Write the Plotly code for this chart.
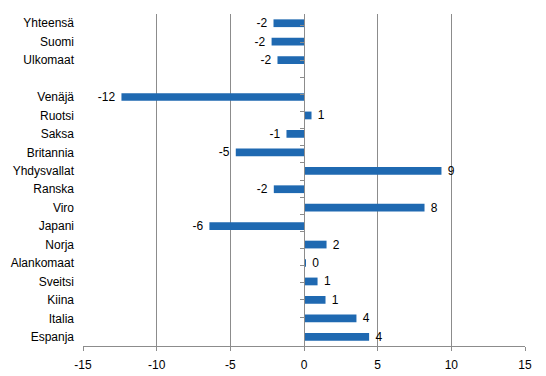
import plotly.graph_objects as go

categories = ["Yhteensä", "Suomi", "Ulkomaat", " ", "Venäjä", "Ruotsi", "Saksa",
              "Britannia", "Yhdysvallat", "Ranska", "Viro", "Japani", "Norja",
              "Alankomaat", "Sveitsi", "Kiina", "Italia", "Espanja"]
values = [-2.07, -2.2, -1.8, None, -12.39, 0.51, -1.19,
          -4.63, 9.33, -2.05, 8.18, -6.42, 1.53,
          0.1, 0.92, 1.46, 3.56, 4.42]
x_ticks = [-15, -10, -5, 0, 5, 10, 15]
x_tick_labels = ["-15", "-10", "-5", "0", "5", "10", "15"]

labels = ["" if v is None else "\u00a0" + str(int(round(v))) + "\u00a0" for v in values]

BLUE = "#1f69b1"
GRID = "#8c8c8c"
FONT = "Liberation Sans, Arial, sans-serif"

fig = go.Figure()
fig.add_trace(go.Bar(
    x=values, y=categories, orientation="h",
    marker=dict(color=BLUE, line=dict(width=0)),
    text=labels, textposition="outside", cliponaxis=False, constraintext="none",
    textfont=dict(size=12, color="#000000", family=FONT),
    hoverinfo="skip",
))
# invisible trace to drive the zero-positioned category axis with boundary ticks
fig.add_trace(go.Scatter(
    x=[0 if v is None else v for v in values], y=categories, yaxis="y2",
    mode="markers", marker=dict(opacity=0), hoverinfo="skip", showlegend=False,
))

fig.update_layout(
    width=546, height=376,
    margin=dict(l=75, r=29, t=6, b=38, autoexpand=False),
    paper_bgcolor="white", plot_bgcolor="white",
    showlegend=False, bargap=0.58,
    font=dict(family=FONT, size=12, color="#000000"),
    xaxis=dict(
        range=[-15, 15], tickvals=x_ticks, ticktext=x_tick_labels,
        showgrid=True, gridcolor=GRID, gridwidth=1, automargin=False,
        zeroline=False, showline=True, linecolor=GRID, linewidth=1,
        ticks="outside", ticklen=4, tickcolor=GRID, ticklabelstandoff=4,
        tickfont=dict(size=12, family=FONT, color="#000000"),
        fixedrange=True,
    ),
    yaxis=dict(
        type="category", categoryorder="array", categoryarray=categories,
        autorange="reversed", showgrid=False, zeroline=False, showline=False,
        ticks="", ticklabelstandoff=8, automargin=False,
        tickfont=dict(size=12, family=FONT, color="#000000"),
        fixedrange=True,
    ),
    yaxis2=dict(
        type="category", categoryorder="array", categoryarray=categories,
        overlaying="y", anchor="free", position=0.5, side="left",
        autorange="reversed", showgrid=False, zeroline=False, automargin=False,
        showline=True, linecolor=GRID, linewidth=1,
        ticks="outside", ticklen=4, tickcolor=GRID, tickson="boundaries",
        showticklabels=False, fixedrange=True,
    ),
)

fig.write_html("out.html")
